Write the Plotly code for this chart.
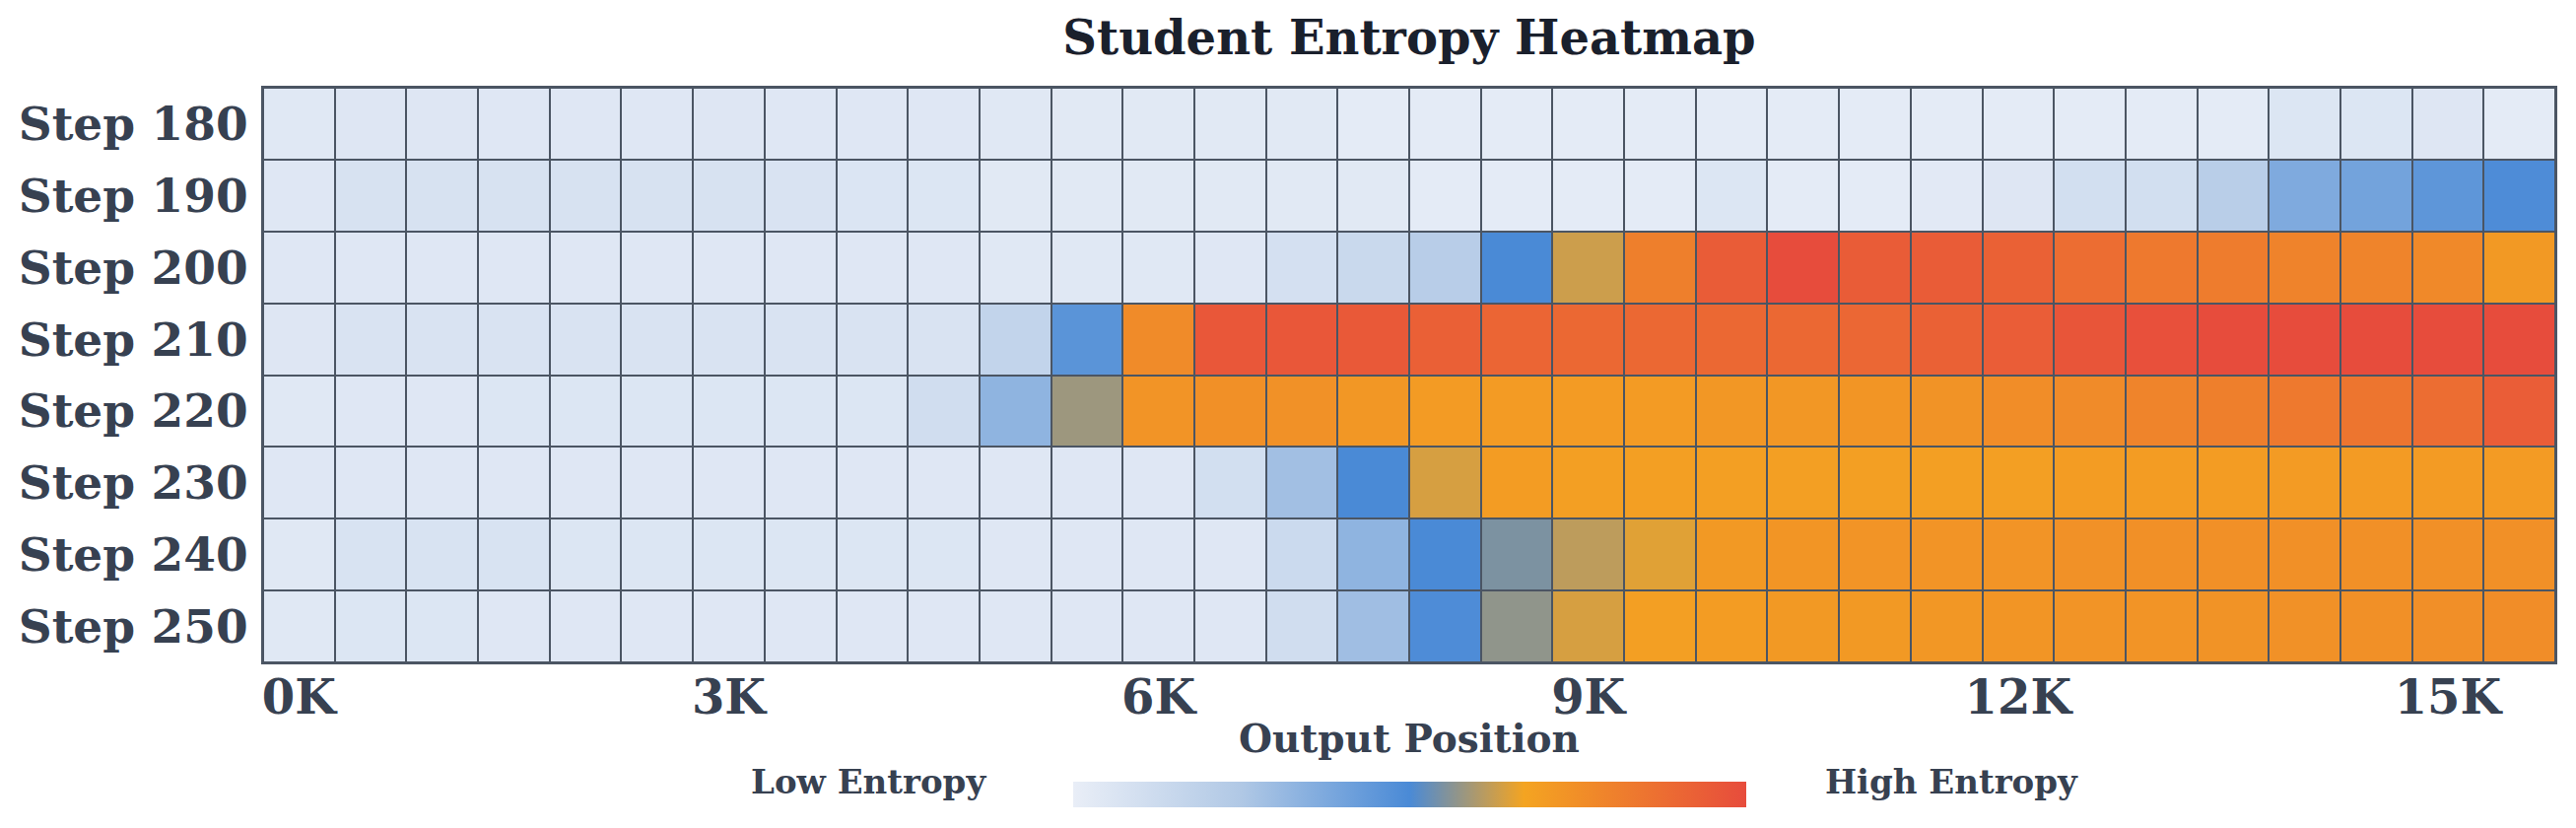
import plotly.graph_objects as go

steps = ["Step 180", "Step 190", "Step 200", "Step 210", "Step 220", "Step 230", "Step 240", "Step 250"]
positions = [i * 500 for i in range(32)]
tick_vals = [0, 3000, 6000, 9000, 12000, 15000]
tick_text = ["0K", "3K", "6K", "9K", "12K", "15K"]

step_180 = [0.04, 0.05, 0.05, 0.045, 0.045, 0.045, 0.05, 0.045, 0.045, 0.045, 0.04, 0.035, 0.035, 0.035, 0.035, 0.02,
            0.02, 0.02, 0.02, 0.02, 0.02, 0.02, 0.02, 0.02, 0.02, 0.02, 0.02, 0.02, 0.055, 0.055, 0.05, 0.02]
step_190 = [0.045, 0.08, 0.08, 0.08, 0.08, 0.08, 0.08, 0.07, 0.06, 0.055, 0.035, 0.035, 0.035, 0.035, 0.035, 0.035,
            0.02, 0.02, 0.02, 0.02, 0.055, 0.02, 0.02, 0.03, 0.05, 0.10, 0.10, 0.21, 0.37, 0.40, 0.45, 0.49]
step_200 = [0.045, 0.045, 0.045, 0.045, 0.045, 0.045, 0.045, 0.045, 0.045, 0.045, 0.04, 0.04, 0.04, 0.045, 0.09, 0.14,
            0.215, 0.50, 0.63, 0.81, 0.94, 1.00, 0.94, 0.94, 0.92, 0.875, 0.83, 0.82, 0.795, 0.79, 0.77, 0.71]
step_210 = [0.05, 0.07, 0.07, 0.07, 0.07, 0.07, 0.07, 0.07, 0.07, 0.07, 0.17, 0.46, 0.765, 0.96, 0.96, 0.95,
            0.925, 0.905, 0.895, 0.895, 0.895, 0.895, 0.9, 0.92, 0.935, 0.965, 0.985, 1.0, 1.0, 1.0, 1.0, 1.0]
step_220 = [0.04, 0.045, 0.045, 0.055, 0.055, 0.055, 0.055, 0.055, 0.055, 0.11, 0.33, 0.583, 0.73, 0.745, 0.74, 0.72,
            0.705, 0.705, 0.705, 0.705, 0.72, 0.72, 0.725, 0.735, 0.755, 0.765, 0.79, 0.81, 0.83, 0.845, 0.875, 0.935]
step_230 = [0.045, 0.045, 0.045, 0.045, 0.045, 0.045, 0.045, 0.045, 0.045, 0.045, 0.045, 0.045, 0.045, 0.10, 0.285, 0.50,
            0.64, 0.70, 0.69, 0.69, 0.69, 0.69, 0.69, 0.69, 0.69, 0.70, 0.70, 0.70, 0.705, 0.705, 0.705, 0.705]
step_240 = [0.04, 0.075, 0.075, 0.075, 0.055, 0.055, 0.055, 0.055, 0.055, 0.055, 0.045, 0.045, 0.045, 0.045, 0.13, 0.33,
            0.50, 0.55, 0.615, 0.65, 0.71, 0.725, 0.73, 0.73, 0.73, 0.74, 0.745, 0.745, 0.745, 0.745, 0.745, 0.745]
step_250 = [0.04, 0.055, 0.055, 0.045, 0.045, 0.045, 0.045, 0.045, 0.045, 0.045, 0.045, 0.045, 0.045, 0.045, 0.11, 0.29,
            0.49, 0.57, 0.64, 0.69, 0.70, 0.71, 0.71, 0.72, 0.725, 0.73, 0.73, 0.735, 0.74, 0.745, 0.75, 0.755]

z = [step_180, step_190, step_200, step_210, step_220, step_230, step_240, step_250]

colorscale = [
    [0.0, "#e9eef7"],
    [0.25, "#b0c8e5"],
    [0.5, "#4a8ad6"],
    [0.67, "#f4a421"],
    [1.0, "#e74c3c"],
]

FONT = "DejaVu Serif"
GRID = "#4b5563"

fig = go.Figure(
    go.Heatmap(
        z=z,
        x=positions,
        y=steps,
        zmin=0,
        zmax=1,
        colorscale=colorscale,
        xgap=2,
        ygap=2,
        hoverongaps=False,
        colorbar=dict(
            orientation="h",
            lenmode="pixels",
            len=683,
            thickness=26,
            x=0.5,
            xanchor="center",
            y=-0.2298,
            yanchor="middle",
            xpad=0,
            ypad=0,
            outlinewidth=0,
            showticklabels=False,
            ticks="",
        ),
    )
)

fig.update_layout(
    width=2598,
    height=824,
    margin=dict(l=258, r=11, t=81, b=160),
    paper_bgcolor="white",
    plot_bgcolor=GRID,
    font=dict(family=FONT, color="#374151"),
    title=dict(
        text="Student Entropy Heatmap",
        x=0.5,
        xref="paper",
        xanchor="center",
        y=0.963,
        yanchor="middle",
        font=dict(family=FONT, size=48, color="#1a202c", weight="bold"),
    ),
    xaxis=dict(
        range=[-250, 15750],
        tickvals=tick_vals,
        ticktext=tick_text,
        tickfont=dict(family=FONT, size=48, color="#374151", weight="bold"),
        showgrid=False,
        zeroline=False,
        showline=True,
        mirror=True,
        linecolor=GRID,
        linewidth=2,
        ticks="",
        ticklabelstandoff=-8,
    ),
    yaxis=dict(
        autorange="reversed",
        tickfont=dict(family=FONT, size=47, color="#374151", weight="bold"),
        showgrid=False,
        zeroline=False,
        showline=True,
        mirror=True,
        linecolor=GRID,
        linewidth=2,
        ticks="",
        ticklabelstandoff=4,
    ),
    annotations=[
        dict(
            text="Output Position",
            x=0.5,
            y=-0.132,
            xref="paper",
            yref="paper",
            xanchor="center",
            yanchor="middle",
            showarrow=False,
            font=dict(family=FONT, size=39, color="#374151", weight="bold"),
        ),
        dict(
            text="Low Entropy",
            x=0.3164,
            y=-0.2075,
            xref="paper",
            yref="paper",
            xanchor="right",
            yanchor="middle",
            showarrow=False,
            font=dict(family=FONT, size=34, color="#374151", weight="bold"),
        ),
        dict(
            text="High Entropy",
            x=0.6806,
            y=-0.2075,
            xref="paper",
            yref="paper",
            xanchor="left",
            yanchor="middle",
            showarrow=False,
            font=dict(family=FONT, size=34, color="#374151", weight="bold"),
        ),
    ],
)

fig.write_html("out.html")
